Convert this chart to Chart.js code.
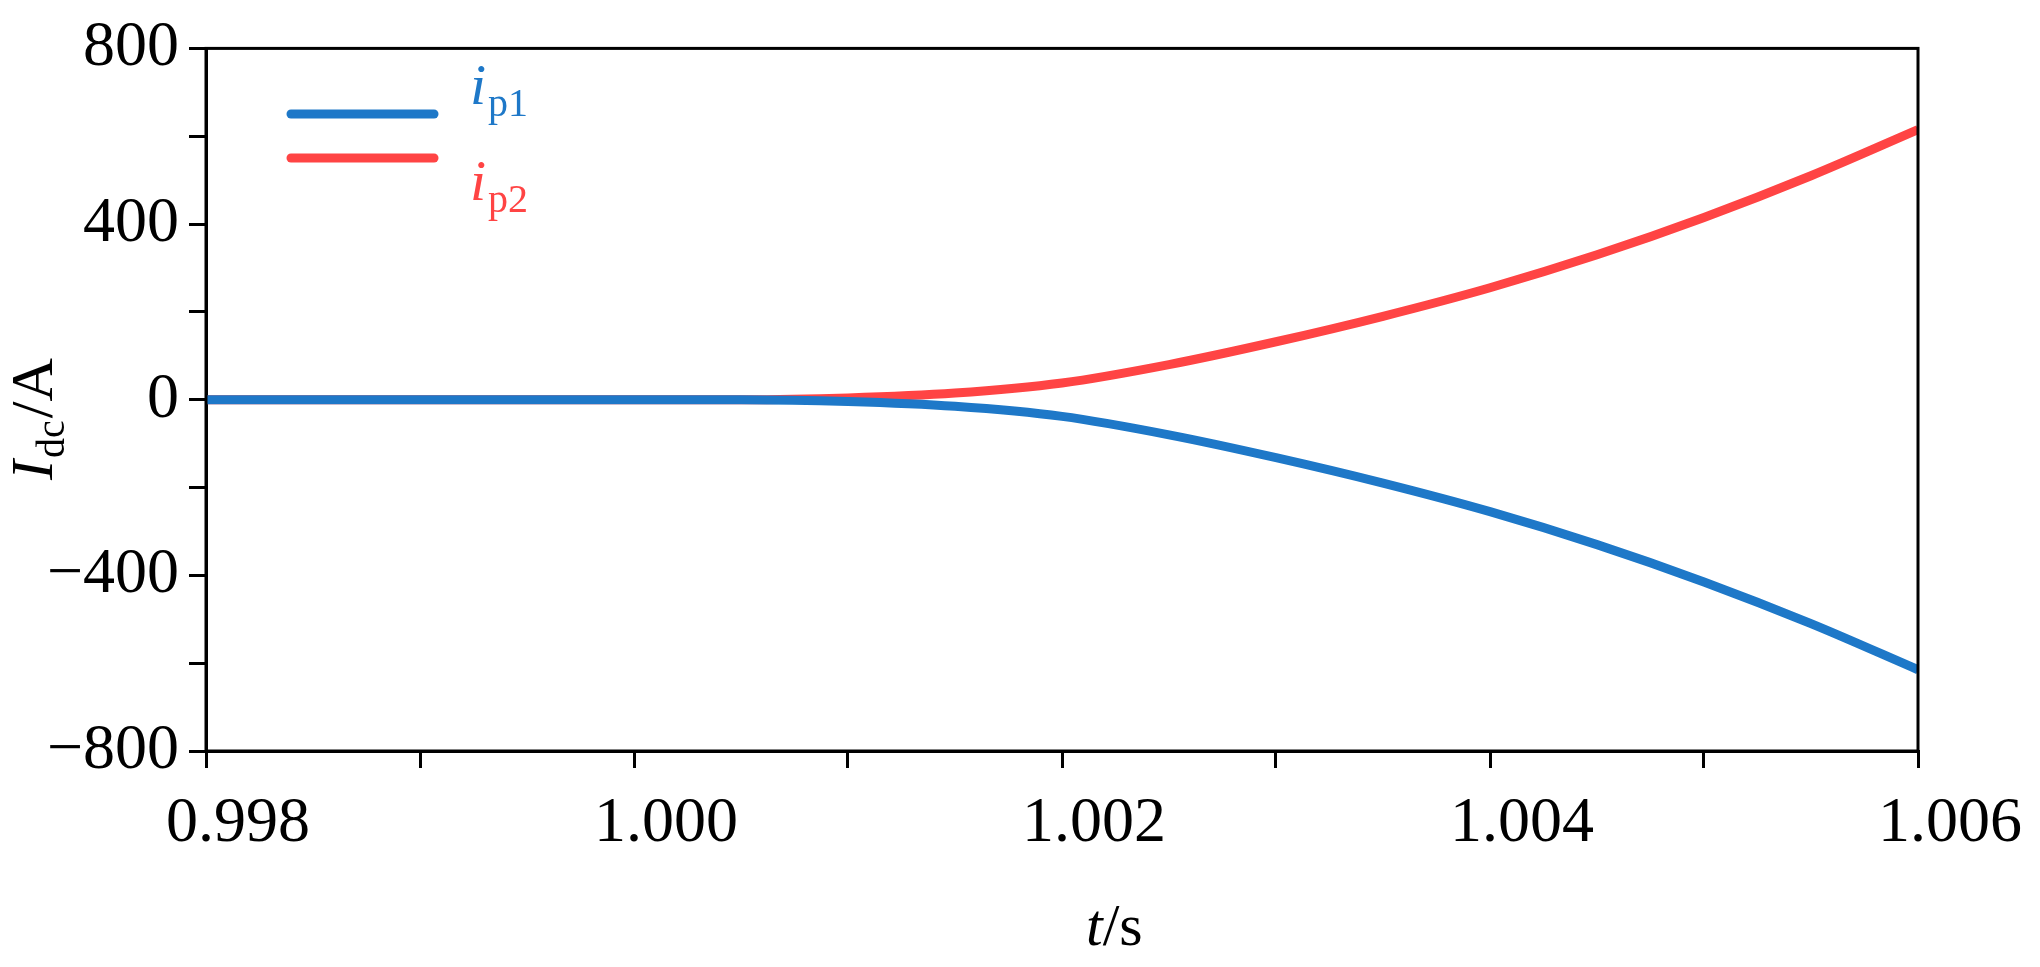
<!DOCTYPE html>
<html><head><meta charset="utf-8">
<script src="https://cdn.jsdelivr.net/npm/chart.js@4"></script>
<style>html,body{margin:0;padding:0;background:#fff}#w{width:2040px;height:967px}</style>
</head><body><div id="w"><canvas id="c"></canvas></div>
<script>
const times = [0.998,0.999,1.0,1.0005,1.001,1.0015,1.002,1.0025,1.003,1.0035,1.004,1.0045,1.005,1.0055,1.006];
const ip1 = [0,0,0,0,-4,-15,-38,-80,-132,-190,-255,-330,-415,-510,-615];
const ip2 = [0,0,0,0,4,15,38,80,132,190,255,330,415,510,615];
const seriesNames = ['p1','p2'];
const colors = ['#1E78C8','#FF4444'];
const FONT = '"Liberation Serif", Tinos, "Times New Roman", Times, serif';

const deco = {
  id:'deco',
  afterDraw(ch){
    const c=ch.ctx, a=ch.chartArea;
    c.save();
    c.strokeStyle='#000'; c.lineWidth=3;
    c.strokeRect(a.left,a.top,a.right-a.left,a.bottom-a.top);
    // legend
    [0,1].forEach(i=>{
      const y=114+i*44;
      c.strokeStyle=colors[i]; c.lineWidth=9; c.lineCap='round';
      c.beginPath(); c.moveTo(291,y); c.lineTo(434,y); c.stroke();
      const by=[104,200][i];
      c.fillStyle=colors[i]; c.textBaseline='alphabetic'; c.textAlign='left';
      c.font='italic 58px '+FONT; c.fillText('i',470,by);
      const w=c.measureText('i').width;
      c.font='40px '+FONT; c.fillText(seriesNames[i],472+w,by+12);
    });
    // x title
    c.fillStyle='#000'; c.textAlign='left';
    c.font='italic 60px '+FONT; c.fillText('t',1086,945);
    let w=c.measureText('t').width;
    c.font='60px '+FONT; c.fillText('/s',1086+w,945);
    // y title
    c.translate(52,480); c.rotate(-Math.PI/2);
    c.textAlign='left';
    c.font='italic 60px '+FONT; c.fillText('I',0,0);
    let x=c.measureText('I').width+2;
    c.font='40px '+FONT; c.fillText('dc',x,12);
    x+=c.measureText('dc').width+2;
    c.font='60px '+FONT; c.fillText('/A',x,0);
    c.restore();
  }
};

new Chart(document.getElementById('c'),{
  type:'line',
  data:{datasets:[
    {label:'ip1',data:times.map((t,i)=>({x:t,y:ip1[i]})),borderColor:colors[0],borderWidth:9,pointRadius:0,cubicInterpolationMode:'monotone'},
    {label:'ip2',data:times.map((t,i)=>({x:t,y:ip2[i]})),borderColor:colors[1],borderWidth:9,pointRadius:0,cubicInterpolationMode:'monotone'}
  ]},
  options:{
    responsive:true,maintainAspectRatio:false,animation:false,
    layout:{padding:{left:0,top:5,right:113,bottom:0}},
    plugins:{legend:{display:false},tooltip:{enabled:false}},
    scales:{
      x:{type:'linear',min:0.998,max:1.006,
        afterBuildTicks(s){s.ticks=[0.998,0.999,1.0,1.001,1.002,1.003,1.004,1.005,1.006].map(v=>({value:v}));},
        afterFit(s){s.height=216;},
        border:{color:'#000',width:3},
        grid:{drawOnChartArea:false,color:'#000',lineWidth:3,tickLength:17},
        ticks:{color:'#000',padding:18,maxRotation:0,autoSkip:false,font:{family:FONT,size:64},
          callback:v=>{const k=Math.round(v*1000);return k%2===0?'    '+(k/1000).toFixed(3):'';}}},
      y:{min:-800,max:800,
        afterBuildTicks(s){s.ticks=[-800,-600,-400,-200,0,200,400,600,800].map(v=>({value:v}));},
        afterFit(s){s.width=206;},
        border:{color:'#000',width:3},
        grid:{drawOnChartArea:false,color:'#000',lineWidth:3,tickLength:17},
        ticks:{color:'#000',padding:10,autoSkip:false,font:{family:FONT,size:64},
          callback:v=>v%400===0?(v<0?'\u2212'+(-v):''+v):''}}
    }
  },
  plugins:[deco]
});
</script></body></html>
